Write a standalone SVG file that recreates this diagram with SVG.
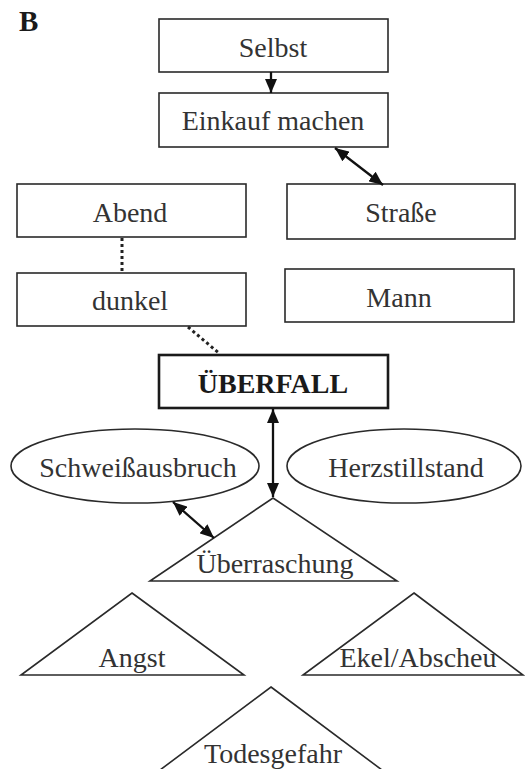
<svg xmlns="http://www.w3.org/2000/svg" width="525" height="769" viewBox="0 0 525 769">
  <style>
    .box { fill: #fff; stroke: #2a2a2a; stroke-width: 1.6; }
    .bold-box { fill: #fff; stroke: #1a1a1a; stroke-width: 2.6; }
    .shape { fill: #fff; stroke: #2a2a2a; stroke-width: 1.6; }
    .lbl { font-family: "Liberation Serif", "Times New Roman", serif; font-size: 28px; fill: #333; text-anchor: middle; }
    .lbl-b { font-family: "Liberation Serif", "Times New Roman", serif; font-size: 28px; font-weight: bold; fill: #1a1a1a; text-anchor: middle; }
    .link { stroke: #111; stroke-width: 2.3; fill: none; }
    .dot { stroke: #222; stroke-width: 3; fill: none; stroke-dasharray: 3 3; }
  </style>
  <defs>
    <marker id="head" viewBox="0 0 14 12" refX="14" refY="6" markerWidth="14" markerHeight="12" orient="auto-start-reverse" markerUnits="userSpaceOnUse">
      <path d="M0,0 L14,6 L0,12 Z" fill="#111"/>
    </marker>
  </defs>

  <rect width="525" height="769" fill="#fff"/>

  <text x="19" y="31" font-family="Liberation Serif, serif" font-size="29" font-weight="bold" fill="#1a1a1a">B</text>

  <g id="selbst">
    <rect class="box" x="159" y="19" width="229" height="53"/>
    <text class="lbl" x="273" y="57">Selbst</text>
  </g>
  <g id="einkauf">
    <rect class="box" x="159" y="93" width="229" height="54"/>
    <text class="lbl" x="273" y="130">Einkauf machen</text>
  </g>
  <g id="abend">
    <rect class="box" x="17" y="184" width="229" height="53"/>
    <text class="lbl" x="130" y="222">Abend</text>
  </g>
  <g id="strasse">
    <rect class="box" x="287" y="184" width="228" height="55"/>
    <text class="lbl" x="401" y="222">Straße</text>
  </g>
  <g id="dunkel">
    <rect class="box" x="17" y="273" width="229" height="53"/>
    <text class="lbl" x="130" y="310">dunkel</text>
  </g>
  <g id="mann">
    <rect class="box" x="285" y="269" width="229" height="53"/>
    <text class="lbl" x="399" y="307">Mann</text>
  </g>
  <g id="ueberfall">
    <rect class="bold-box" x="159" y="355" width="229" height="53"/>
    <text class="lbl-b" x="273" y="393">ÜBERFALL</text>
  </g>
  <g id="schweiss">
    <ellipse class="shape" cx="135" cy="466" rx="124" ry="37"/>
    <text class="lbl" x="138" y="477">Schweißausbruch</text>
  </g>
  <g id="herz">
    <ellipse class="shape" cx="404" cy="466" rx="117" ry="37"/>
    <text class="lbl" x="406" y="477">Herzstillstand</text>
  </g>
  <g id="ueberraschung">
    <polygon class="shape" points="273,498 397,581 150,581"/>
    <text class="lbl" x="275" y="573">Überraschung</text>
  </g>
  <g id="angst">
    <polygon class="shape" points="132,593 244,675 21,675"/>
    <text class="lbl" x="132" y="667">Angst</text>
  </g>
  <g id="ekel">
    <polygon class="shape" points="414,593 523,675 303,675"/>
    <text class="lbl" x="418" y="667">Ekel/Abscheu</text>
  </g>
  <g id="todesgefahr">
    <polygon class="shape" points="271,687 382,770 160,770"/>
    <text class="lbl" x="273" y="763">Todesgefahr</text>
  </g>

  <g id="connectors">
    <line class="link" x1="271" y1="72" x2="271" y2="93" marker-end="url(#head)"/>
    <line class="link" x1="335" y1="148" x2="383" y2="185" marker-start="url(#head)" marker-end="url(#head)"/>
    <line class="dot" x1="122" y1="238" x2="122" y2="273"/>
    <line class="dot" x1="188" y1="327" x2="220" y2="354"/>
    <line class="link" x1="273" y1="409" x2="273" y2="497" marker-start="url(#head)" marker-end="url(#head)"/>
    <line class="link" x1="173" y1="502" x2="214" y2="538" marker-start="url(#head)" marker-end="url(#head)"/>
  </g>
</svg>
